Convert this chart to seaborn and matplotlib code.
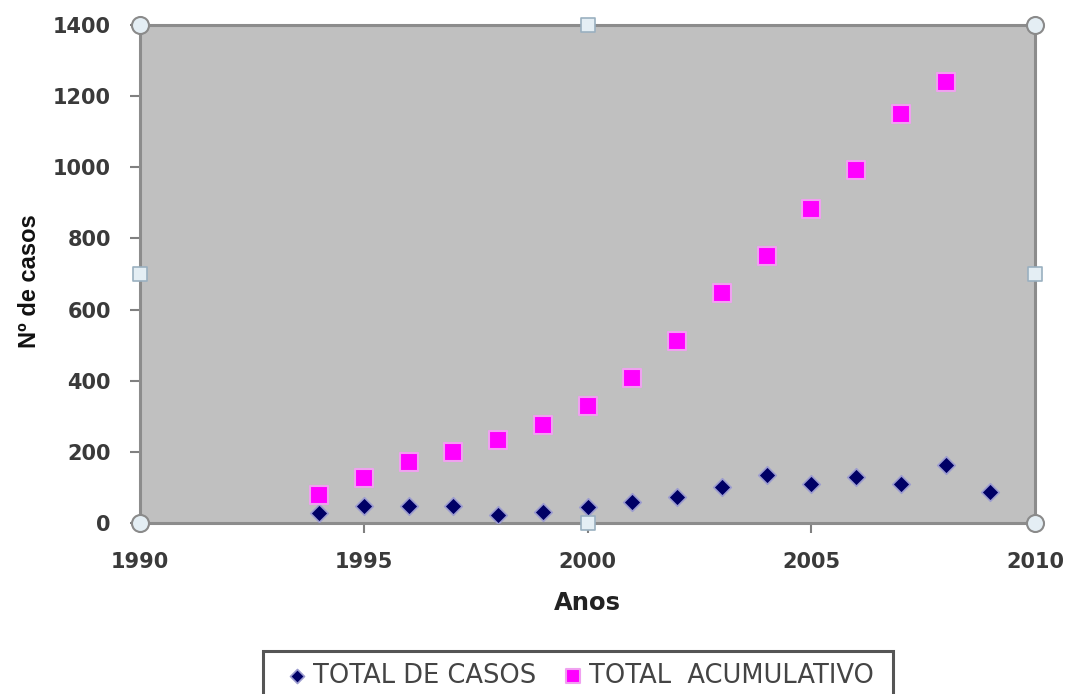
import matplotlib
matplotlib.use("Agg")
import matplotlib.pyplot as plt
from matplotlib.patches import Rectangle
import seaborn as sns
import pandas as pd

# Annual counts and running total
anos = [1994, 1995, 1996, 1997, 1998, 1999, 2000, 2001, 2002,
        2003, 2004, 2005, 2006, 2007, 2008, 2009]
total_casos = [28, 47, 47, 47, 22, 31, 45, 59, 74,
               102, 135, 111, 129, 111, 163, 88]
anos_acum = [1994, 1995, 1996, 1997, 1998, 1999, 2000, 2001,
             2002, 2003, 2004, 2005, 2006, 2007, 2008]
total_acumulativo = [79, 126, 171, 201, 234, 275, 329, 408,
                     512, 647, 751, 883, 992, 1150, 1240]
x_ticks = [1990, 1995, 2000, 2005, 2010]
y_ticks = [0, 200, 400, 600, 800, 1000, 1200, 1400]

df_casos = pd.DataFrame({"Anos": anos, "casos": total_casos})
df_acum = pd.DataFrame({"Anos": anos_acum, "casos": total_acumulativo})

sns.set_style("white")
plt.rcParams["font.family"] = ["DejaVu Sans"]

W, H = 1065, 694
fig = plt.figure(figsize=(W / 100, H / 100), dpi=100)
ax = fig.add_axes([140 / W, 1 - 523 / H, 895 / W, 498 / H])
ax.set_facecolor("#c0c0c0")

sns.scatterplot(data=df_casos, x="Anos", y="casos", marker="D", s=80,
                color="#000066", edgecolor="#9c9ccf", linewidth=1.2,
                ax=ax, label="TOTAL DE CASOS", zorder=3)
sns.scatterplot(data=df_acum, x="Anos", y="casos", marker="s", s=150,
                color="#ff00ff", edgecolor="#f0a0f0", linewidth=1.5,
                ax=ax, label="TOTAL  ACUMULATIVO", zorder=3)

ax.set_xlim(1990, 2010)
ax.set_ylim(0, 1400)
ax.set_xticks(x_ticks)
ax.set_yticks(y_ticks)
ax.tick_params(axis="both", which="both", direction="out", length=7,
               width=1.5, color="#808080", labelsize=15,
               labelcolor="#3a3a3a", bottom=True, left=True)
ax.tick_params(axis="y", pad=14)
ax.tick_params(axis="x", pad=14)
for lab in ax.get_xticklabels() + ax.get_yticklabels():
    lab.set_fontweight("bold")
for side in ["left", "right", "top", "bottom"]:
    ax.spines[side].set_visible(True)
    ax.spines[side].set_color("#8c8c8c")
    ax.spines[side].set_linewidth(2.2)

ax.set_xlabel("Anos", fontsize=17.5, fontweight="bold", color="#222222")
ax.xaxis.set_label_coords(0.5, (523 - 591) / 498)
ax.set_ylabel("Nº de casos", fontsize=17, fontweight="bold",
              color="#111111", family="Liberation Sans")
ax.yaxis.set_label_coords((41 - 140) / 895, (523 - 281) / 498)

# Selection handles around the plot area
corner_x = [0, 1, 0, 1]
corner_y = [0, 0, 1, 1]
ax.scatter(corner_x, corner_y, s=150, marker="o", facecolor="#e4eef4",
           edgecolor="#8a8a8a", linewidth=1.5, transform=ax.transAxes,
           clip_on=False, zorder=5)
mid_x = [0.5, 0.5, 0, 1]
mid_y = [0, 1, 0.5, 0.5]
ax.scatter(mid_x, mid_y, s=90, marker="s", facecolor="#e4eef4",
           edgecolor="#9ab0c0", linewidth=1.2, transform=ax.transAxes,
           clip_on=False, zorder=5)

# Legend entries, with a box that runs past the bottom of the figure
handles, labels = ax.get_legend_handles_labels()
ax.get_legend().remove()
leg = fig.legend(handles, labels, loc="upper left",
                 bbox_to_anchor=(263 / W, 1 - 651 / H), borderaxespad=0,
                 ncol=2, frameon=False, fontsize=18.5,
                 handlelength=1.75, handletextpad=-0.25, columnspacing=0.55,
                 borderpad=0.45, markerscale=0.8)
for t in leg.get_texts():
    t.set_color("#444444")
fig.add_artist(Rectangle((263 / W, -0.05), (893 - 263) / W,
                         (H - 651) / H + 0.05, transform=fig.transFigure,
                         facecolor="none", edgecolor="#555555",
                         linewidth=2.2, clip_on=False))

fig.savefig("out.png", dpi=100)
